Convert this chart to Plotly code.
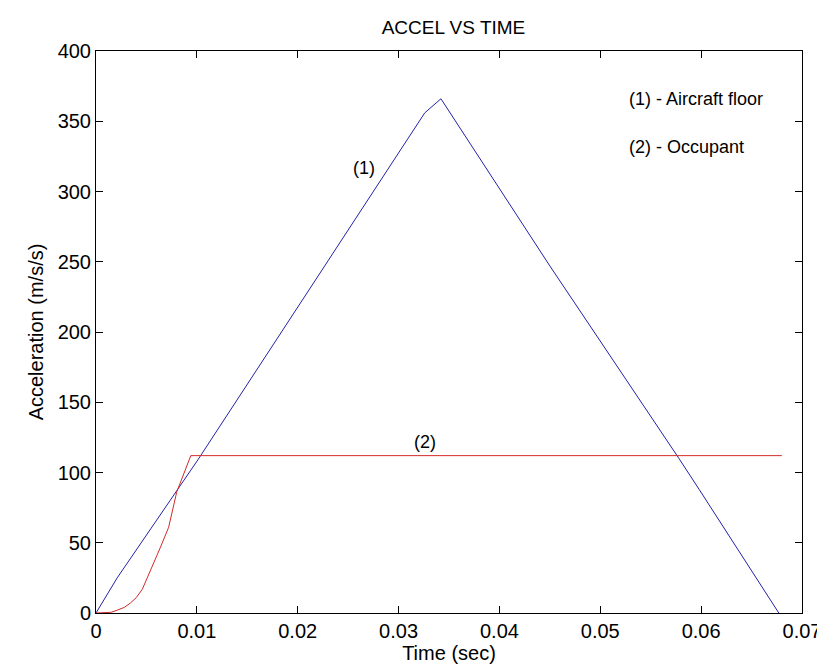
import plotly.graph_objects as go

# Aircraft floor (1)
t_floor = [0, 0.0021, 0.0101, 0.02, 0.0326, 0.0342, 0.045, 0.0578, 0.0598, 0.0677]
a_floor = [0, 25, 109, 218, 356, 366, 247, 110, 88, 0]

# Occupant (2)
t_occ = [0, 0.0015, 0.0021, 0.0028, 0.0034, 0.004, 0.0046, 0.0054, 0.0064, 0.0072, 0.008, 0.0094, 0.068]
a_occ = [0, 0.5, 2, 4, 7, 11, 17, 30, 47, 61, 86, 112, 112]

x_ticks = [0, 0.01, 0.02, 0.03, 0.04, 0.05, 0.06, 0.07]
x_labels = ["0", "0.01", "0.02", "0.03", "0.04", "0.05", "0.06", "0.07"]
y_ticks = [0, 50, 100, 150, 200, 250, 300, 350, 400]

FONT = "Liberation Sans, Arial, Helvetica, sans-serif"

fig = go.Figure()
fig.add_trace(go.Scatter(x=t_floor, y=a_floor, mode="lines",
                         line=dict(color="#2323a8", width=1), showlegend=False))
fig.add_trace(go.Scatter(x=t_occ, y=a_occ, mode="lines",
                         line=dict(color="#d42a2a", width=1), showlegend=False))

ann = dict(showarrow=False, font=dict(family=FONT, size=18, color="black"))
fig.add_annotation(x=0.0266, y=317, text="(1)", xanchor="center", yanchor="middle", **ann)
fig.add_annotation(x=0.0326, y=122, text="(2)", xanchor="center", yanchor="middle", **ann)
fig.add_annotation(x=0.0526, y=366, text="(1) - Aircraft floor", xanchor="left", yanchor="middle", **ann)
fig.add_annotation(x=0.0526, y=332, text="(2) - Occupant", xanchor="left", yanchor="middle", **ann)

axis_common = dict(showline=True, linecolor="black", linewidth=1, mirror="ticks",
                   ticks="inside", ticklen=7, tickcolor="black", showgrid=False,
                   zeroline=False, tickfont=dict(family=FONT, size=20, color="black"))

fig.update_layout(
    width=825, height=671,
    margin=dict(l=88, r=21, t=43, b=66),
    paper_bgcolor="white", plot_bgcolor="white",
    title=dict(text="ACCEL VS TIME", x=0.54, xanchor="center", y=1 - 19 / 671,
               yanchor="middle", font=dict(family=FONT, size=19, color="black")),
    xaxis=dict(range=[0, 0.07], tickvals=x_ticks, ticktext=x_labels,
               title=dict(text="Time (sec)", standoff=4,
                          font=dict(family=FONT, size=20, color="black")),
               **axis_common),
    yaxis=dict(range=[0, 400], tickvals=y_ticks,
               title=dict(text="Acceleration (m/s/s)", standoff=8,
                          font=dict(family=FONT, size=20, color="black")),
               **axis_common),
)

fig.write_html("out.html")
